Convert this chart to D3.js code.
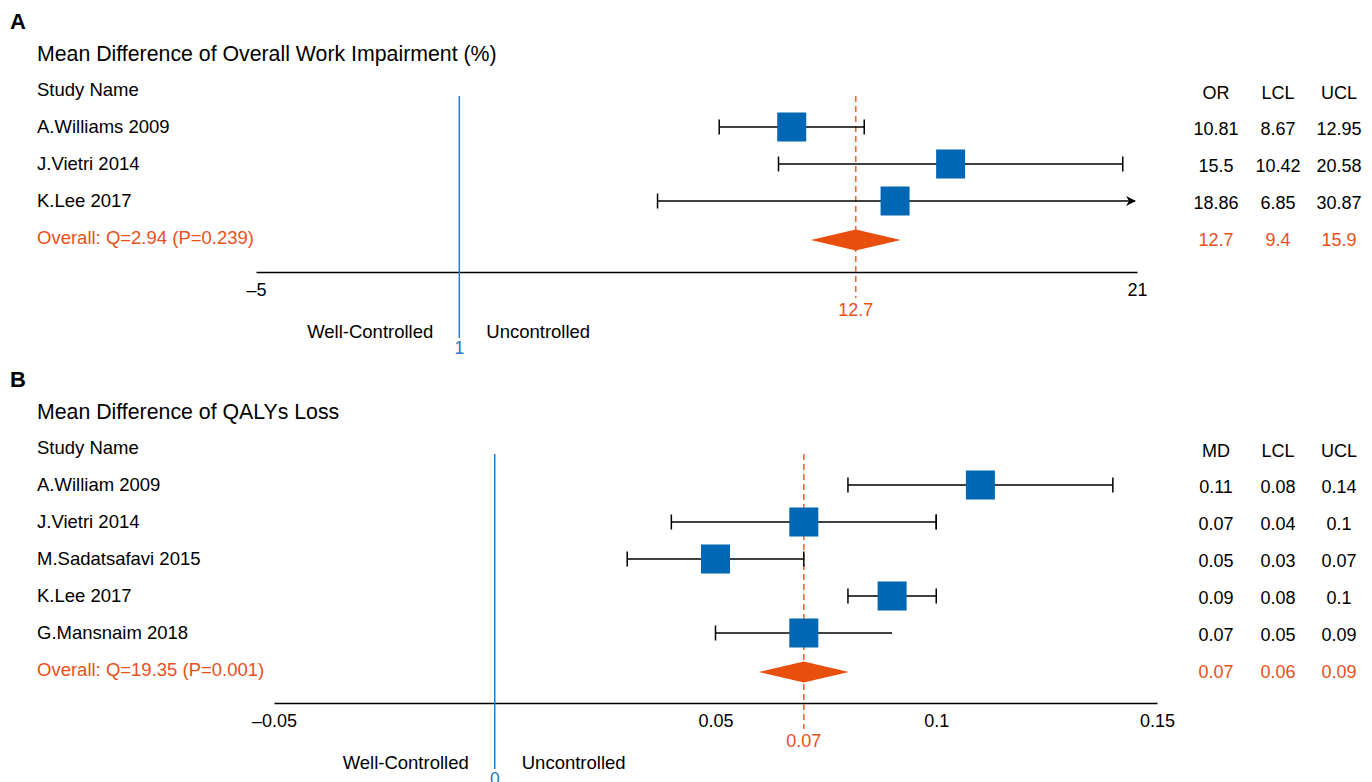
<!DOCTYPE html>
<html>
<head>
<meta charset="utf-8">
<script src="https://cdn.jsdelivr.net/npm/d3@7"></script>
<style>
  body { margin: 0; background: #fff; }
  text { font-family: "Liberation Sans", Arial, sans-serif; }
</style>
</head>
<body>
<svg id="svg"></svg>
<script>
// ---- data, panel A ----
const studiesA = ["A.Williams 2009", "J.Vietri 2014", "K.Lee 2017"];
const plotA = [10.81, 15.5, 13.86];      // square positions as drawn
const orA = [10.81, 15.5, 18.86];        // table column values
const lclA = [8.67, 10.42, 6.85];
const uclA = [12.95, 20.58, 30.87];
const overallA = [12.7, 9.4, 15.9];
const ticksA = [-5, 21];

// ---- data, panel B ----
const studiesB = ["A.William 2009", "J.Vietri 2014", "M.Sadatsafavi 2015", "K.Lee 2017", "G.Mansnaim 2018"];
const mdB = [0.11, 0.07, 0.05, 0.09, 0.07];
const lclB = [0.08, 0.04, 0.03, 0.08, 0.05];
const uclB = [0.14, 0.1, 0.07, 0.1, 0.09];
const overallB = [0.07, 0.06, 0.09];
const ticksB = [-0.05, 0.05, 0.1, 0.15];

const blue = "#0067b4", orange = "#e8501a", lineBlue = "#2a78c2";
const width = 1372, height = 782;

let svg = d3.select("#svg").attr("width", width).attr("height", height);

svg.append("defs").append("marker")
  .attr("id", "arrow").attr("viewBox", "0 0 10 10")
  .attr("refX", 9).attr("refY", 5)
  .attr("markerWidth", 10).attr("markerHeight", 10)
  .attr("markerUnits", "userSpaceOnUse")
  .attr("orient", "auto")
  .append("path").attr("d", "M0,0L10,5L0,10L3,5Z").attr("fill", "#000");

function fmt(d){ return d < 0 ? "\u2013" + Math.abs(d) : String(d) }

function renderPanel(p){
  let x = d3.scaleLinear().domain(p.domain).range(p.range);
  let g = svg.append("g");

  g.append("text").attr("x", 10).attr("y", p.top).attr("dy", "0.35em")
    .attr("font-size", 22).attr("font-weight", "bold").text(p.letter);
  g.append("text").attr("x", 37).attr("y", p.top + 33).attr("dy", "0.35em")
    .attr("font-size", 21.3).text(p.title);

  let rowY = function(i){ return p.header + p.step * (i + 1) };
  let n = p.names.length;

  // left labels
  g.append("text").attr("x", 37).attr("y", p.header).attr("dy", "0.35em")
    .attr("font-size", 18.5).text("Study Name");
  g.selectAll(".name").data(p.names).enter().append("text")
    .attr("x", 37).attr("y", function(d, i){ return rowY(i) }).attr("dy", "0.35em")
    .attr("font-size", 18.5).text(function(d){ return d });
  g.append("text").attr("x", 37).attr("y", rowY(n)).attr("dy", "0.35em")
    .attr("font-size", 18.5).attr("fill", orange).text(p.overallLabel);

  // right table
  let cols = [1216, 1278, 1339];
  let heads = [p.estHead, "LCL", "UCL"];
  let colData = [p.tableEst, p.lcl, p.ucl];
  heads.forEach(function(h, c){
    g.append("text").attr("x", cols[c]).attr("y", p.header + 3).attr("dy", "0.35em")
      .attr("text-anchor", "middle").attr("font-size", 18).text(h);
    g.selectAll(".col" + c).data(colData[c]).enter().append("text")
      .attr("x", cols[c]).attr("y", function(d, i){ return rowY(i) + 2 }).attr("dy", "0.35em")
      .attr("text-anchor", "middle").attr("font-size", 18).text(function(d){ return d });
    g.append("text").attr("x", cols[c]).attr("y", rowY(n) + 2).attr("dy", "0.35em")
      .attr("text-anchor", "middle").attr("font-size", 18).attr("fill", orange)
      .text(p.overall[c]);
  });

  // axis
  let axis = g.append("g").attr("transform", "translate(0," + p.axisY + ")")
    .call(d3.axisBottom(x).tickValues(p.ticks).tickSize(0).tickSizeOuter(0)
      .tickPadding(11).tickFormat(fmt));
  axis.select(".domain").attr("stroke", "#000").attr("stroke-width", 1.5);
  axis.selectAll("text").attr("font-size", 18).attr("fill", "#000")
    .style("font-family", "'Liberation Sans', Arial, sans-serif");

  // reference line
  let rx = x(p.ref);
  g.append("line").attr("x1", rx).attr("x2", rx)
    .attr("y1", p.header + 6).attr("y2", p.axisY + 66)
    .attr("stroke", lineBlue).attr("stroke-width", 1.5);
  g.append("text").attr("x", rx).attr("y", p.axisY + 76).attr("dy", "0.35em")
    .attr("text-anchor", "middle").attr("font-size", 17.5).attr("fill", lineBlue).text(p.ref);
  g.append("text").attr("x", rx - 26).attr("y", p.axisY + 60).attr("dy", "0.35em")
    .attr("text-anchor", "end").attr("font-size", 18.5).text("Well-Controlled");
  g.append("text").attr("x", rx + 27).attr("y", p.axisY + 60).attr("dy", "0.35em")
    .attr("font-size", 18.5).text("Uncontrolled");

  // overall dashed line
  let ox = x(p.overall[0]);
  g.append("line").attr("x1", ox).attr("x2", ox)
    .attr("y1", p.header + 6).attr("y2", p.axisY + 26)
    .attr("stroke", "#ec6a35").attr("stroke-width", 1.6).attr("stroke-dasharray", "6,4");
  g.append("text").attr("x", ox).attr("y", p.axisY + 38).attr("dy", "0.35em")
    .attr("text-anchor", "middle").attr("font-size", 18).attr("fill", orange).text(p.overall[0]);

  // error bars
  let xmax = p.domain[1];
  let bars = g.append("g").selectAll("g").data(p.plot).enter().append("g");
  bars.append("line")
    .attr("x1", function(d, i){ return x(p.lcl[i]) })
    .attr("x2", function(d, i){ return x(Math.min(p.ucl[i], xmax)) - (p.ucl[i] > xmax ? 2 : 0) })
    .attr("y1", function(d, i){ return rowY(i) }).attr("y2", function(d, i){ return rowY(i) })
    .attr("stroke", "#000").attr("stroke-width", 1.5)
    .attr("marker-end", function(d, i){ return p.ucl[i] > xmax ? "url(#arrow)" : null });
  bars.append("line")
    .attr("x1", function(d, i){ return x(p.lcl[i]) }).attr("x2", function(d, i){ return x(p.lcl[i]) })
    .attr("y1", function(d, i){ return rowY(i) - 7.5 }).attr("y2", function(d, i){ return rowY(i) + 7.5 })
    .attr("stroke", "#000").attr("stroke-width", 1.5);
  bars.filter(function(d, i){ return p.ucl[i] <= xmax }).append("line")
    .attr("x1", function(d){ return x(p.ucl[p.plot.indexOf(d)]) })
    .attr("x2", function(d){ return x(p.ucl[p.plot.indexOf(d)]) })
    .attr("y1", function(d){ return rowY(p.plot.indexOf(d)) - 7.5 })
    .attr("y2", function(d){ return rowY(p.plot.indexOf(d)) + 7.5 })
    .attr("stroke", "#000").attr("stroke-width", 1.5);

  // squares
  let s = 29;
  g.append("g").selectAll("rect").data(p.plot).enter().append("rect")
    .attr("x", function(d){ return x(d) - s / 2 })
    .attr("y", function(d, i){ return rowY(i) - s / 2 })
    .attr("width", s).attr("height", s).attr("fill", blue);

  // diamond
  let dy = rowY(n) + 2, hw = 45, hh = 10.5;
  g.append("path")
    .attr("d", "M" + (ox - hw) + "," + dy + "L" + ox + "," + (dy - hh) +
      "L" + (ox + hw) + "," + dy + "L" + ox + "," + (dy + hh) + "Z")
    .attr("fill", "#e84e0c");
}

renderPanel({
  letter: "A", top: 21, title: "Mean Difference of Overall Work Impairment (%)",
  header: 90, step: 37, axisY: 272, domain: [-5, 21], range: [256, 1137], ticks: ticksA,
  names: studiesA, plot: plotA, tableEst: orA, lcl: lclA, ucl: uclA,
  overall: overallA, overallLabel: "Overall: Q=2.94 (P=0.239)", estHead: "OR", ref: 1
});

renderPanel({
  letter: "B", top: 379, title: "Mean Difference of QALYs Loss",
  header: 448, step: 37, axisY: 703, domain: [-0.05, 0.15], range: [274, 1157], ticks: ticksB,
  names: studiesB, plot: mdB, tableEst: mdB, lcl: lclB, ucl: uclB,
  overall: overallB, overallLabel: "Overall: Q=19.35 (P=0.001)", estHead: "MD", ref: 0
});
</script>
</body>
</html>
